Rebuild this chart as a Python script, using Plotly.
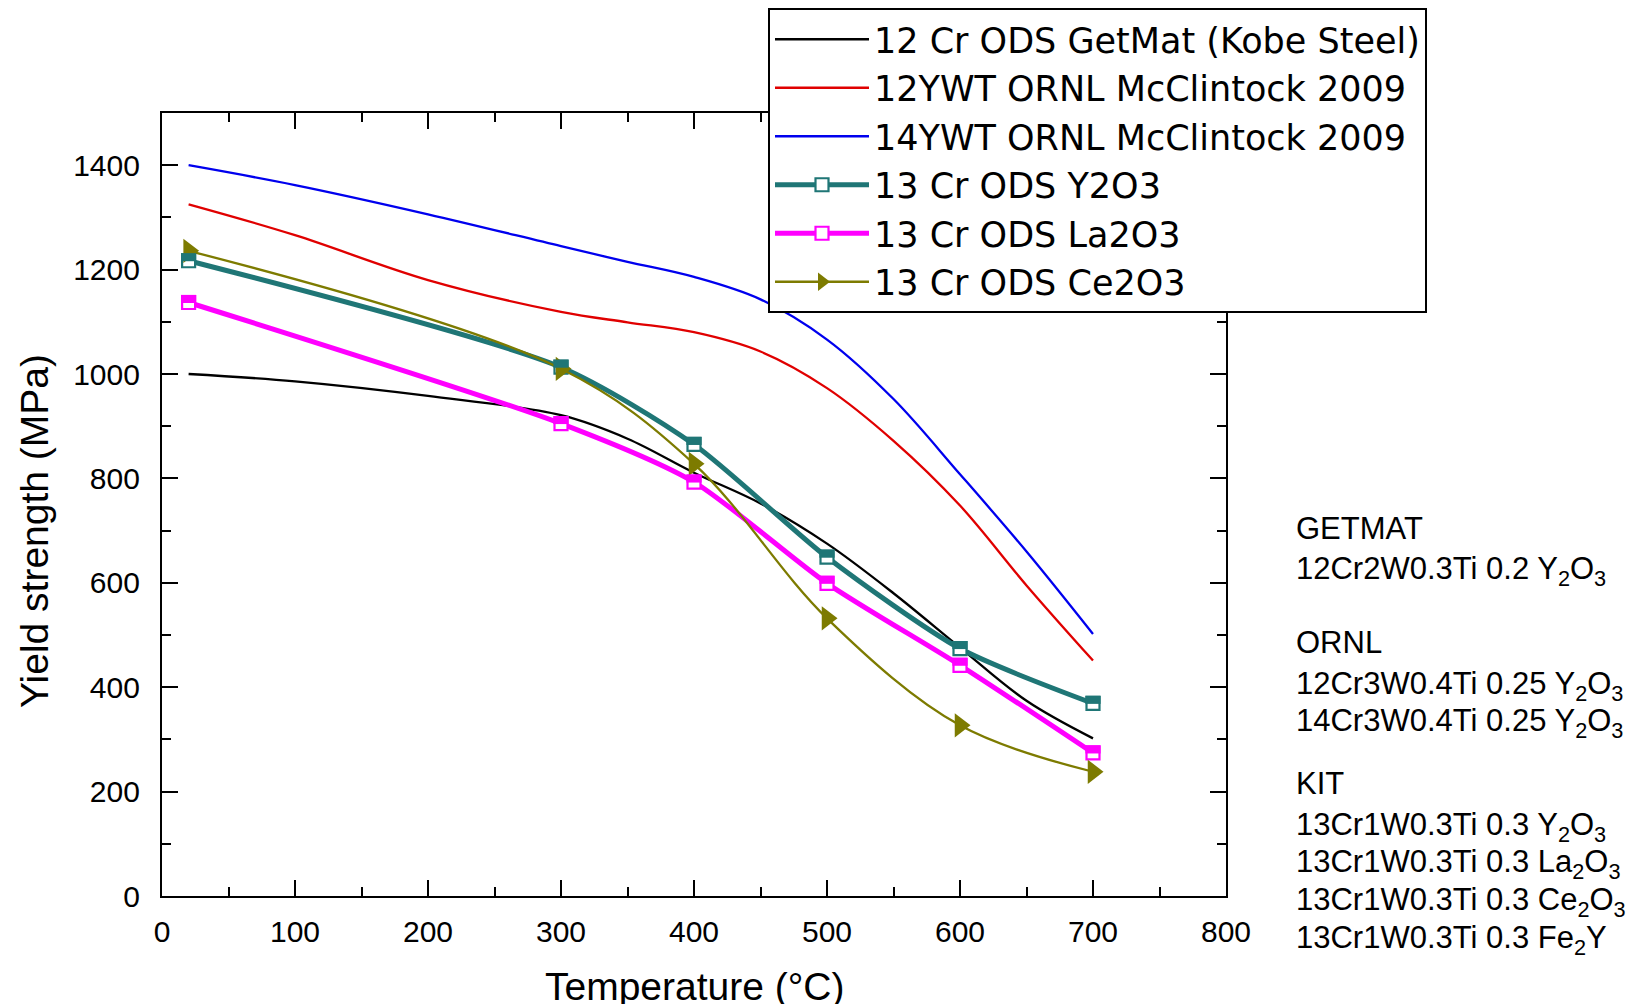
import plotly.graph_objects as go

# ---- data ----
curve_T = [20, 100, 200, 300, 350, 400, 450, 500, 550, 600, 650, 700]
getmat_ys = [1000, 986, 958, 921, 876, 811, 752, 675, 580, 476, 374, 302]
ywt12_ys = [1325, 1266, 1180, 1119, 1099, 1080, 1043, 973, 872, 748, 595, 451]
ywt14_ys = [1400, 1362, 1306, 1245, 1215, 1186, 1143, 1066, 952, 808, 660, 502]

kit_T = [20, 300, 400, 500, 600, 700]
y2o3_ys = [1217, 1013, 865, 649, 474, 369]
la2o3_ys = [1137, 905, 793, 599, 442, 274]
ce2o3_ys = [1236, 1010, 828, 532, 327, 238]

legend_names = [
    "12 Cr ODS GetMat (Kobe Steel)",
    "12YWT ORNL McClintock 2009",
    "14YWT ORNL McClintock 2009",
    "13 Cr ODS Y2O3",
    "13 Cr ODS La2O3",
    "13 Cr ODS Ce2O3",
]

side_lines = [
    "GETMAT",
    "12Cr2W0.3Ti 0.2 Y<sub>2</sub>O<sub>3</sub>",
    "ORNL",
    "12Cr3W0.4Ti 0.25 Y<sub>2</sub>O<sub>3</sub>",
    "14Cr3W0.4Ti 0.25 Y<sub>2</sub>O<sub>3</sub>",
    "KIT",
    "13Cr1W0.3Ti 0.3 Y<sub>2</sub>O<sub>3</sub>",
    "13Cr1W0.3Ti 0.3 La<sub>2</sub>O<sub>3</sub>",
    "13Cr1W0.3Ti 0.3 Ce<sub>2</sub>O<sub>3</sub>",
    "13Cr1W0.3Ti 0.3 Fe<sub>2</sub>Y",
]
side_y_px = [528, 571, 642, 686, 723, 783, 827, 864, 902, 940]

FONT = "Liberation Sans, Arial, sans-serif"
LEG_FONT = "DejaVu Sans, Liberation Sans, sans-serif"
TEAL = "#1f7676"
MAGENTA = "#ff00ff"
OLIVE = "#7d7b00"

# page has an 8px body margin: work in page pixels, subtract offset
OFF = 8
W, H = 1639 - OFF, 1004 - OFF
L, R, T, B = 162 - OFF, 1226 - OFF, 113 - OFF, 896 - OFF

fig = go.Figure()

fig.add_trace(go.Scatter(x=curve_T, y=getmat_ys, mode="lines", name=legend_names[0],
                         line=dict(color="black", width=2.3, shape="spline", smoothing=1)))
fig.add_trace(go.Scatter(x=curve_T, y=ywt12_ys, mode="lines", name=legend_names[1],
                         line=dict(color="#e00000", width=2.3, shape="spline", smoothing=1)))
fig.add_trace(go.Scatter(x=curve_T, y=ywt14_ys, mode="lines", name=legend_names[2],
                         line=dict(color="#0000ee", width=2.3, shape="spline", smoothing=1)))
fig.add_trace(go.Scatter(x=kit_T, y=y2o3_ys, mode="lines+markers", name=legend_names[3],
                         line=dict(color=TEAL, width=5, shape="spline", smoothing=0.7),
                         marker=dict(symbol="square", size=13, color="white",
                                     line=dict(color=TEAL, width=2.2))))
fig.add_trace(go.Scatter(x=kit_T, y=la2o3_ys, mode="lines+markers", name=legend_names[4],
                         line=dict(color=MAGENTA, width=5, shape="spline", smoothing=0.7),
                         marker=dict(symbol="square", size=13, color="white",
                                     line=dict(color=MAGENTA, width=2.2))))
fig.add_trace(go.Scatter(x=kit_T, y=ce2o3_ys, mode="lines+markers", name=legend_names[5],
                         line=dict(color=OLIVE, width=2.3, shape="spline", smoothing=1),
                         marker=dict(symbol="triangle-right", size=21, color=OLIVE)))

# half-filled square markers (top half filled), anchored to data points
shapes = []
for ys, col in ((y2o3_ys, TEAL), (la2o3_ys, MAGENTA)):
    for t, v in zip(kit_T, ys):
        shapes.append(dict(type="rect", xref="x", yref="y", xsizemode="pixel", ysizemode="pixel",
                           xanchor=t, yanchor=v, x0=-7.6, x1=7.6, y0=-0.5, y1=7.6,
                           fillcolor=col, line=dict(width=0), layer="above"))

pw, ph = R - L, B - T


def px_x(xp):
    return (xp - OFF - L) / pw


def px_y(yp):
    return (B - (yp - OFF)) / ph


annotations = []
for txt, yp in zip(side_lines, side_y_px):
    annotations.append(dict(text=txt, xref="paper", yref="paper", x=px_x(1294),
                            y=px_y(yp), xanchor="left", yanchor="middle", showarrow=False,
                            font=dict(family=FONT, size=31, color="black")))
annotations.append(dict(text="Yield strength (MPa)", xref="paper", yref="paper",
                        x=px_x(34), y=px_y(531), textangle=-90, showarrow=False,
                        xanchor="center", yanchor="middle",
                        font=dict(family=FONT, size=39, color="black")))
annotations.append(dict(text="Temperature (°C)", xref="paper", yref="paper",
                        x=px_x(695), y=px_y(986), showarrow=False,
                        xanchor="center", yanchor="middle",
                        font=dict(family=FONT, size=39, color="black")))

axis_common = dict(showline=True, linecolor="black", linewidth=2.2, mirror="allticks",
                   ticks="inside", ticklen=16, tickwidth=2.2, tickcolor="black",
                   showgrid=False, zeroline=False,
                   tickfont=dict(family=FONT, size=30, color="black"))

fig.update_layout(
    width=W, height=H,
    margin=dict(l=L, r=W - R, t=T, b=H - B, pad=0, autoexpand=False),
    paper_bgcolor="white", plot_bgcolor="white",
    showlegend=True,
    legend=dict(x=px_x(768), y=px_y(8), xanchor="left", yanchor="top",
                bgcolor="white", bordercolor="black", borderwidth=2,
                font=dict(family=LEG_FONT, size=35, color="black"),
                itemwidth=94, tracegroupgap=0),
    xaxis=dict(range=[0, 800], dtick=100, tick0=0,
               minor=dict(dtick=50, ticks="inside", ticklen=9, tickwidth=2.2, tickcolor="black"),
               ticklabelstandoff=8, **axis_common),
    yaxis=dict(range=[0, 1500], tickvals=[0, 200, 400, 600, 800, 1000, 1200, 1400],
               minor=dict(dtick=100, ticks="inside", ticklen=9, tickwidth=2.2, tickcolor="black"),
               ticklabelstandoff=14, **axis_common),
    shapes=shapes,
    annotations=annotations,
)

fig.write_html("out.html")
